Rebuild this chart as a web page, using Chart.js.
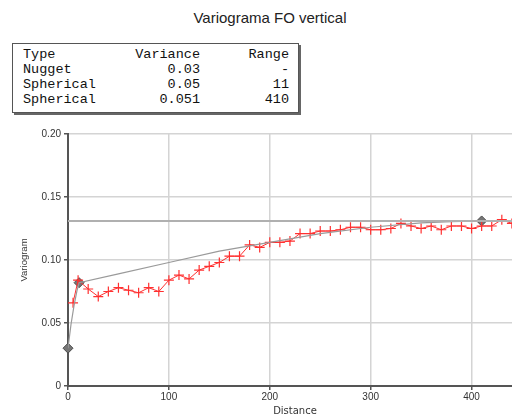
<!DOCTYPE html>
<html>
<head>
<meta charset="utf-8">
<script src="https://cdn.jsdelivr.net/npm/chart.js@4"></script>
<style>
  html, body { margin: 0; padding: 0; background: #fff; overflow: hidden; width: 512px; height: 419px; }
  #title { position: absolute; left: 0; width: 540px; top: 9px; text-align: center; font: 15px "Liberation Sans", Arial, sans-serif; color: #222; }
  #model { position: absolute; left: 12px; top: 43px; width: 285px; height: 68px; border: 1px solid #555; box-shadow: 2px 2px 0 #666; font: 13.5px "Liberation Mono", "Courier New", monospace; color: #111; }
  #model table { position: absolute; left: 10px; top: 3px; border-collapse: collapse; }
  #model td { padding: 0; height: 15px; line-height: 15px; white-space: pre; }
  #model td.n { text-align: right; }
  #chart { position: absolute; left: 0; top: 0; }
</style>
</head>
<body>
<div id="title">Variograma FO vertical</div>
<div id="model">
  <table>
    <tr><td style="width:108px">Type</td><td class="n" style="width:69px">Variance</td><td class="n" style="width:89px">Range</td></tr>
    <tr><td>Nugget</td><td class="n">0.03</td><td class="n">-</td></tr>
    <tr><td>Spherical</td><td class="n">0.05</td><td class="n">11</td></tr>
    <tr><td>Spherical</td><td class="n">0.051</td><td class="n">410</td></tr>
  </table>
</div>
<canvas id="chart" width="530" height="419"></canvas>
<script>
// experimental variogram (red crosses)
const lagDistance = [5, 10, 20, 30, 40, 50, 60, 70, 80, 90, 100, 110, 120, 130, 140, 150, 160, 170, 180, 190,
  200, 210, 220, 230, 240, 250, 260, 270, 280, 290, 300, 310, 320, 330, 340, 350, 360, 370, 380, 390,
  400, 410, 420, 430, 440, 450];
const variogramValues = [0.066, 0.084, 0.077, 0.071, 0.075, 0.078, 0.076, 0.074, 0.078, 0.075, 0.084, 0.088, 0.085, 0.092, 0.095, 0.098, 0.103, 0.103, 0.112, 0.110,
  0.114, 0.114, 0.115, 0.121, 0.121, 0.123, 0.123, 0.124, 0.126, 0.126, 0.124, 0.124, 0.125, 0.129, 0.127, 0.125, 0.127, 0.124, 0.127, 0.127,
  0.125, 0.127, 0.127, 0.132, 0.129, 0.127];

// fitted model curve
const modelDistance = [0, 3, 6, 9, 11, 50, 100, 150, 200, 250, 300, 350, 380, 410, 450];
const modelValues = [0.03, 0.049, 0.064, 0.076, 0.082, 0.089, 0.098, 0.107, 0.114, 0.121, 0.126, 0.1295, 0.1305, 0.131, 0.131];

// diamonds: nugget and ranges
const markerDistance = [0, 11, 410];
const markerValues = [0.03, 0.082, 0.131];

// sill line
const sillValue = 0.131;
const xMin = 0, xMax = 450;
const yTicks = [0, 0.05, 0.1, 0.15, 0.2];
const xTicks = [0, 100, 200, 300, 400];

const toPoints = (xs, ys) => xs.map((x, i) => ({ x: x, y: ys[i] }));

const tickFont = { family: '"Liberation Sans", Arial, sans-serif', size: 10 };

new Chart(document.getElementById('chart'), {
  type: 'line',
  data: {
    datasets: [
      {
        data: [{ x: xMin, y: sillValue }, { x: xMax, y: sillValue }],
        borderColor: '#b0b0b0',
        borderWidth: 2,
        pointRadius: 0
      },
      {
        data: toPoints(modelDistance, modelValues),
        borderColor: '#9a9a9a',
        borderWidth: 1.2,
        pointRadius: 0,
        tension: 0
      },
      {
        data: toPoints(lagDistance, variogramValues),
        borderColor: '#ff3030',
        borderWidth: 1,
        pointStyle: 'cross',
        pointRadius: 5,
        pointBorderWidth: 1.2,
        pointBorderColor: '#ff3030'
      },
      {
        data: toPoints(markerDistance, markerValues),
        showLine: false,
        pointStyle: 'rectRot',
        pointRadius: 5,
        pointBackgroundColor: '#767676',
        pointBorderColor: '#4a4a4a',
        pointBorderWidth: 1,
        clip: false
      }
    ]
  },
  options: {
    responsive: false,
    animation: false,
    layout: { padding: { top: 134, right: 8, left: 0, bottom: 0 } },
    plugins: { legend: { display: false }, tooltip: { enabled: false } },
    scales: {
      x: {
        type: 'linear',
        min: xMin,
        max: xMax,
        afterBuildTicks: s => { s.ticks = xTicks.map(v => ({ value: v })); },
        afterFit: s => { s.height = 33; },
        ticks: { font: tickFont, color: '#333', padding: 1 },
        grid: { color: '#d4d4d4', lineWidth: 1.5, tickLength: 4, tickColor: '#555' },
        border: { color: '#555', width: 2 },
        title: { display: true, text: 'Distance', color: '#333', font: { family: '"DejaVu Sans", sans-serif', size: 10 }, padding: { top: 0, bottom: 2 } }
      },
      y: {
        min: 0,
        max: 0.2,
        afterBuildTicks: s => { s.ticks = yTicks.map(v => ({ value: v })); },
        afterFit: s => { s.width = 68; },
        ticks: { font: tickFont, color: '#333', padding: 3 },
        grid: { color: '#d4d4d4', lineWidth: 1.5, tickLength: 4, tickColor: '#555' },
        border: { color: '#555', width: 2 },
        title: { display: true, text: 'Variogram', color: '#333', font: { family: '"Liberation Sans", Arial, sans-serif', size: 9.5 }, padding: { top: 19, bottom: 0 } }
      }
    }
  }
});
</script>
</body>
</html>
